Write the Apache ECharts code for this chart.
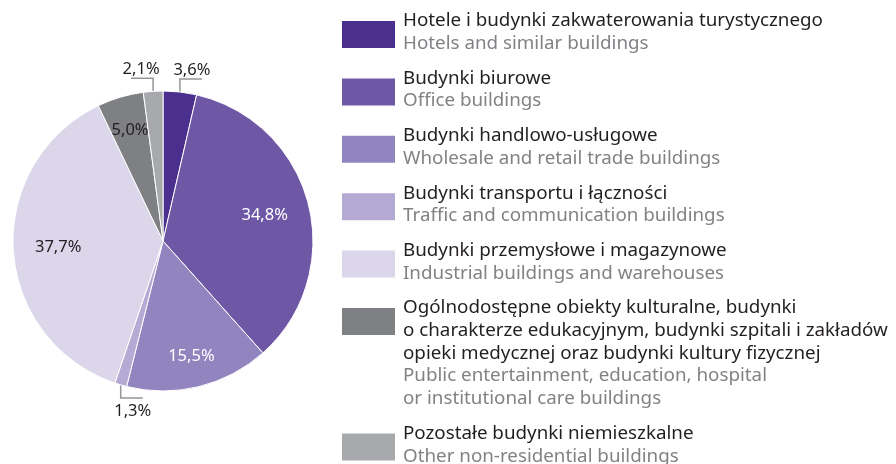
<!DOCTYPE html>
<html>
<head>
<meta charset="utf-8">
<script src="https://cdn.jsdelivr.net/npm/echarts@6/dist/echarts.min.js"></script>
<style>
  html, body { margin: 0; padding: 0; background: #fff; }
  #chart { width: 896px; height: 464px; }
</style>
</head>
<body>
<div id="chart"></div>
<script>
// category names (Polish / English) and shares in percent
const namesPl = [
  'Hotele i budynki zakwaterowania turystycznego',
  'Budynki biurowe',
  'Budynki handlowo-usługowe',
  'Budynki transportu i łączności',
  'Budynki przemysłowe i magazynowe',
  'Ogólnodostępne obiekty kulturalne, budynki\no charakterze edukacyjnym, budynki szpitali i zakładów\nopieki medycznej oraz budynki kultury fizycznej',
  'Pozostałe budynki niemieszkalne'
];
const namesEn = [
  'Hotels and similar buildings',
  'Office buildings',
  'Wholesale and retail trade buildings',
  'Traffic and communication buildings',
  'Industrial buildings and warehouses',
  'Public entertainment, education, hospital\nor institutional care buildings',
  'Other non-residential buildings'
];
const shares = [3.6, 34.8, 15.5, 1.3, 37.7, 5.0, 2.1];

const colors = ['#4a2f8e', '#6e58a6', '#9184bf', '#b4aad4', '#dbd6ea', '#7f8083', '#a8a9ac'];
const labelColors = ['#231f20', '#ffffff', '#ffffff', '#231f20', '#231f20', '#231f20', '#231f20'];
// inside label distance from centre, as a share of radius
const insideDist = [0, 0.70, 0.79, 0, 0.70, 0.77, 0];
// outside labels: horizontal direction of leader line
const outsideDir = { 0: 1, 3: 1, 6: -1 };

const cx = 163, cy = 241, R = 150;
const total = shares.reduce((a, b) => a + b, 0);
const cum = [];
shares.reduce((acc, v, i) => { cum[i] = acc; return acc + v; }, 0);

const fmt = v => v.toFixed(1).replace('.', ',') + '%';
const font = '"Noto Sans", sans-serif';
const legendSize = 18.8;

const chart = echarts.init(document.getElementById('chart'), null, { renderer: 'canvas' });

// legend built as graphic elements
const legendEls = [];
const lineH = 22.7, itemGap = 12;
let rowTop = 21;
namesPl.forEach((pl, i) => {
  const plLines = pl.split('\n');
  const enLines = namesEn[i].split('\n');
  legendEls.push({
    type: 'rect',
    shape: { x: 342, y: rowTop, width: 53, height: 27 },
    style: { fill: colors[i] }
  });
  const txt = plLines.map(s => '{a|' + s + '}').concat(enLines.map(s => '{b|' + s + '}')).join('\n');
  legendEls.push({
    type: 'text',
    x: 403,
    y: rowTop - lineH / 2,
    style: {
      text: txt,
      font: legendSize + 'px ' + font,
      rich: {
        a: { fill: '#231f20', fontSize: legendSize, fontFamily: font, lineHeight: lineH },
        b: { fill: '#808285', fontSize: legendSize, fontFamily: font, lineHeight: lineH }
      }
    }
  });
  rowTop += (plLines.length + enLines.length) * lineH + itemGap;
});

const data = shares.map((v, i) => {
  const outside = outsideDir[i] !== undefined;
  return {
    name: namesPl[i],
    value: v,
    itemStyle: { color: colors[i] },
    label: { position: outside ? 'outside' : 'inside', color: labelColors[i] },
    labelLine: { show: outside }
  };
});

chart.setOption({
  animation: false,
  graphic: legendEls,
  series: [{
    type: 'pie',
    center: [cx, cy],
    radius: [0, R],
    startAngle: 90,
    clockwise: true,
    avoidLabelOverlap: false,
    itemStyle: { borderColor: '#ffffff', borderWidth: 1 },
    label: {
      show: true,
      formatter: p => fmt(p.value),
      fontSize: 16.5,
      fontFamily: font
    },
    labelLine: {
      show: false,
      length: 14,
      length2: 22,
      lineStyle: { color: '#939598', width: 1.5 }
    },
    labelLayout: function (p) {
      const i = p.dataIndex;
      const th = (cum[i] + shares[i] / 2) / total * Math.PI * 2;
      const sx = Math.sin(th), cz = Math.cos(th);
      if (outsideDir[i] === undefined) {
        const k = insideDist[i] * R;
        return { x: cx + k * sx, y: cy - k * cz, align: 'center', verticalAlign: 'middle' };
      }
      const dir = outsideDir[i];
      const ex = cx + R * sx, ey = cy - R * cz;
      const up = cz > 0 ? -1 : 1;
      const my = ey + up * 13;
      const endX = ex + dir * 22;
      return {
        x: endX - dir * 10,
        y: up < 0 ? my - 9 : my + 13,
        align: 'center',
        verticalAlign: 'middle',
        labelLinePoints: [[ex, ey], [ex, my], [endX, my]]
      };
    },
    data: data
  }]
});
</script>
</body>
</html>
